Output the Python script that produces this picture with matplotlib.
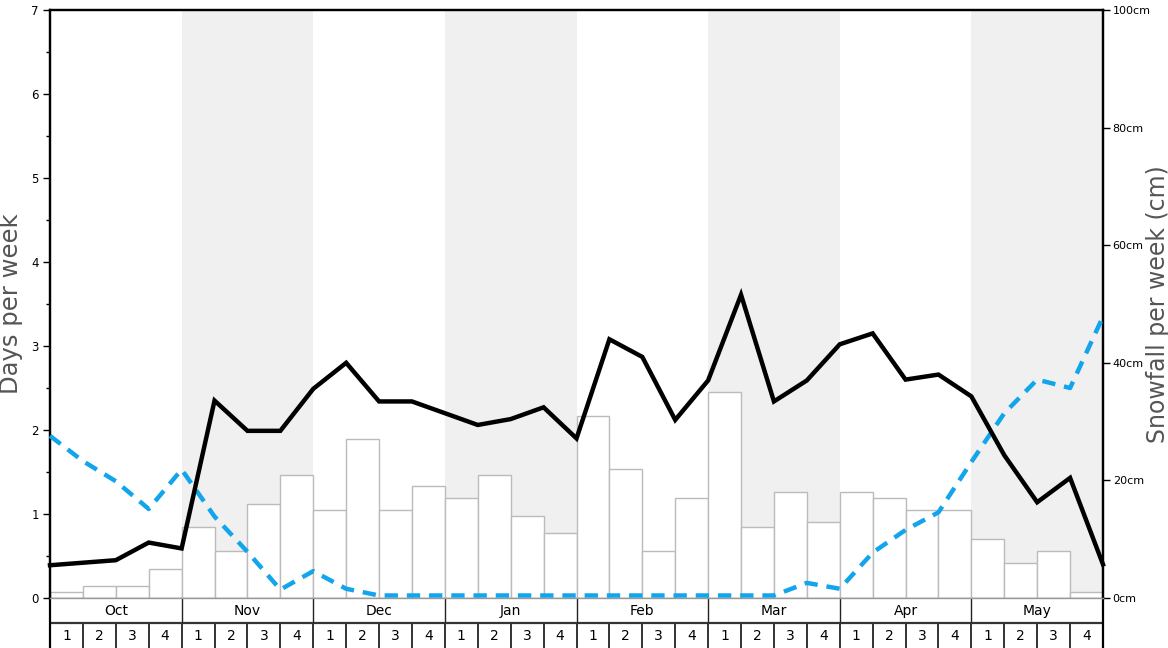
import matplotlib
matplotlib.use("Agg")
import matplotlib.pyplot as plt
import numpy as np

months = ["Oct", "Nov", "Dec", "Jan", "Feb", "Mar", "Apr", "May"]
week_labels = ["1", "2", "3", "4"] * len(months)

# weekly snowfall (cm), one bar per week
snow_cm = [1, 2, 2, 5, 12, 8, 16, 21, 15, 27, 15, 19, 17, 21, 14, 11,
           31, 22, 8, 17, 35, 12, 18, 13, 18, 17, 15, 15, 10, 6, 8, 1]

# days per week, sampled at week boundaries
days_black = [0.39, 0.42, 0.45, 0.66, 0.59, 2.35, 1.99, 1.99, 2.49, 2.80, 2.34,
              2.34, 2.20, 2.06, 2.13, 2.27, 1.90, 3.08, 2.87, 2.12, 2.59, 3.61,
              2.34, 2.59, 3.02, 3.15, 2.60, 2.66, 2.40, 1.70, 1.14, 1.43, 0.40]
days_blue = [1.93, 1.63, 1.39, 1.06, 1.53, 0.97, 0.55, 0.10, 0.32, 0.11, 0.03,
             0.03, 0.03, 0.03, 0.03, 0.03, 0.03, 0.03, 0.03, 0.03, 0.03, 0.03,
             0.03, 0.18, 0.11, 0.54, 0.81, 1.02, 1.62, 2.20, 2.60, 2.50, 3.35]

n_weeks = len(snow_cm)
W, H = 1168, 648
fig = plt.figure(figsize=(W / 100, H / 100), dpi=100)

left, right = 50 / W, 1103 / W
top, bottom = 1 - 10 / H, 1 - 598 / H

ax = fig.add_axes([left, bottom, right - left, top - bottom])
ax2 = ax.twinx()
ax.set_zorder(ax2.get_zorder() + 1)
ax.patch.set_visible(False)

# shaded alternate months
for i in range(1, len(months), 2):
    ax2.axvspan(i * 4, i * 4 + 4, color="#f0f0f0", lw=0, zorder=0)

x_bar = np.arange(n_weeks) + 0.5
ax2.bar(x_bar, snow_cm, width=1.0, color="white", edgecolor="#bbbbbb",
        linewidth=1.0, zorder=2)

x_pts = np.arange(len(days_black))
ax.plot(x_pts, days_black, color="black", lw=3.2, solid_joinstyle="miter",
        zorder=4, clip_on=False)
ax.plot(x_pts, days_blue, color="#12a5ec", lw=3.2, dashes=(3, 2),
        zorder=3, clip_on=False)

ax.set_xlim(0, n_weeks)
ax.set_ylim(0, 7)
ax2.set_ylim(0, 100)
ax.set_xticks([])

ax.set_yticks(range(0, 8))
ax.set_yticks(np.arange(0.5, 7, 1), minor=True)
ax.tick_params(axis="y", which="major", length=5, width=1, labelsize=8.5, pad=3)
ax.tick_params(axis="y", which="minor", length=3, width=1)

ax2.set_yticks(range(0, 101, 20))
ax2.set_yticklabels([f"{v}cm" for v in range(0, 101, 20)])
ax2.tick_params(axis="y", length=5, width=1, labelsize=8, pad=2)

for a in (ax, ax2):
    for side in ("left", "right", "top"):
        a.spines[side].set_linewidth(1.6)
    a.spines["bottom"].set_color("#999999")
    a.spines["bottom"].set_linewidth(1.0)

ax.set_ylabel("Days per week", fontsize=17.5, color="#555555")
ax.yaxis.set_label_coords(-0.026, 0.5)
ax2.set_ylabel("Snowfall per week (cm)", fontsize=17, color="#555555")
ax2.yaxis.set_label_coords(1.041, 0.5)

# month / week table under the chart
tax = fig.add_axes([left, -2 / H, right - left, 52 / H])
tax.set_xlim(0, n_weeks)
tax.set_ylim(0, 2)
tax.set_xticks([])
tax.set_yticks([])
tax.spines["top"].set_visible(False)
tax.spines["bottom"].set_visible(False)
tax.spines["left"].set_linewidth(1.6)
tax.spines["right"].set_linewidth(1.6)

tax.axhline(1.04, color="#333333", lw=1.6)
for i in range(1, len(months)):
    tax.plot([i * 4, i * 4], [1.04, 2], color="#222222", lw=1.0)
for k in range(1, n_weeks):
    tax.plot([k, k], [0, 1.04], color="#333333", lw=1.4)

for i, m in enumerate(months):
    tax.text(i * 4 + 2, 1.5, m, ha="center", va="center", fontsize=10)
for k, w in enumerate(week_labels):
    tax.text(k + 0.5, 0.52, w, ha="center", va="center", fontsize=10)

fig.savefig("out.png", dpi=100)
